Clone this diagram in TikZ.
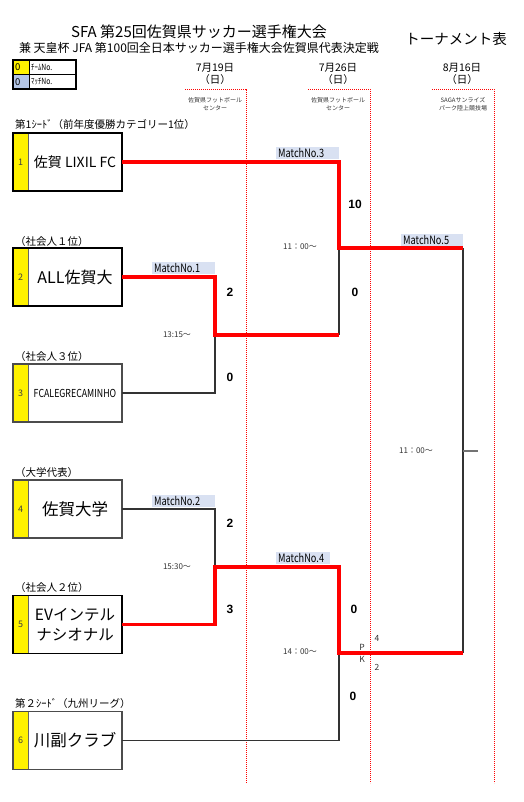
\documentclass[tikz,border=0pt]{standalone}
\usepackage{fontspec}
\setmainfont{Noto Sans CJK JP}
\newfontfamily\narrowfont[FakeStretch=0.8]{Noto Sans CJK JP}
\newfontfamily\scorefont{Liberation Sans}
\usetikzlibrary{positioning}

\definecolor{tagblue}{HTML}{D9E1F2}
\definecolor{keyblue}{HTML}{B4C6E7}

\begin{document}
\begin{tikzpicture}[x=1pt, y=-1pt, line join=miter,
		numcell/.style={fill=yellow, draw=black!60, line width=0.6pt, minimum width=15pt, minimum height=58pt, inner sep=0pt, outer sep=0pt, text=black!75, font=\fontsize{9}{9}\selectfont},
		namebox/.style={draw=black!60, line width=0.6pt, minimum width=94pt, minimum height=58pt, inner sep=0pt, outer sep=0pt, align=center},
		seedlabel/.style={anchor=west, inner sep=0pt, font=\fontsize{10.5}{11}\selectfont},
		matchtag/.style={fill=tagblue, anchor=south west, minimum height=12pt, inner xsep=2pt, inner ysep=0pt, align=left, font=\narrowfont\fontsize{11.5}{11.5}\selectfont},
		score/.style={font=\scorefont\bfseries\fontsize{12}{12}\selectfont},
		kickoff/.style={text=black!80, font=\fontsize{8}{8}\selectfont},
		datetext/.style={font=\fontsize{10.5}{10.5}\selectfont},
		venuetext/.style={align=center, text=black!80, font=\fontsize{6}{7.5}\selectfont},
		venueline/.style={red, line width=0.8pt, dash pattern=on 1.2pt off 0.8pt},
		bracket/.style={black!80, line width=1.3pt},
		winline/.style={red, line width=3.6pt}]
	
	% Page size
	\useasboundingbox (0,0) rectangle (523,802);
	
	% Titles
	\node[font=\fontsize{15}{15}\selectfont] (title) at (199,32) {SFA 第25回佐賀県サッカー選手権大会};
	\node[font=\fontsize{12}{12}\selectfont] (subtitle) at (199,48) {兼 天皇杯 JFA 第100回全日本サッカー選手権大会佐賀県代表決定戦};
	\node[font=\fontsize{14.5}{15}\selectfont] (kind) at (456,39) {トーナメント表};
	
	% Legend
	\fill[yellow] (13,60) rectangle (29,74.5);
	\fill[keyblue] (13,74.5) rectangle (29,89);
	\draw[line width=0.5pt] (13,74.5) -- (76,74.5) (29,60) -- (29,89);
	\draw[line width=1.3pt] (13,60) rectangle (76,89);
	\node[anchor=west, inner sep=0pt, font=\fontsize{9.5}{9.5}\selectfont] (keyno) at (15,67.5) {0};
	\node[anchor=west, inner sep=0pt, font=\fontsize{9.5}{9.5}\selectfont] (keymatch) at (15,82) {0};
	\node[anchor=west, inner sep=0pt, font=\narrowfont\fontsize{8.5}{9}\selectfont] (keynotext) at (31,67.5) {ﾁｰﾑNo.};
	\node[anchor=west, inner sep=0pt, font=\narrowfont\fontsize{8.5}{9}\selectfont] (keymatchtext) at (31,82) {ﾏｯﾁNo.};
	
	% Match days and venues
	\foreach \x/\d/\i in {215/7月19日/a, 338/7月26日/b, 462/8月16日/c} {
		\node[datetext] (date\i) at (\x,68) {\d};
		\node[datetext] (day\i) at (\x,80) {（日）};
	}
	\node[venuetext] (venuea) at (215,104) {佐賀県フットボール\\センター};
	\node[venuetext] (venueb) at (338,104) {佐賀県フットボール\\センター};
	\node[venuetext] (venuec) at (463,104) {SAGAサンライズ\\パーク陸上競技場};
	\foreach \xl/\xr in {185/246, 308/370, 432/494}
		\draw[venueline] (\xl,89) -- (\xr,89) -- (\xr,783);
	
	% Teams
	\node[numcell] (n1) at (20.5,162) {1};
	\node[namebox, right=0pt of n1, font=\fontsize{14}{14}\selectfont] (t1) {佐賀 LIXIL FC};
	\node[numcell] (n2) at (20.5,277) {2};
	\node[namebox, right=0pt of n2, font=\fontsize{16}{16}\selectfont] (t2) {ALL佐賀大};
	\node[numcell] (n3) at (20.5,393) {3};
	\node[namebox, right=0pt of n3, font=\narrowfont\fontsize{11}{11}\selectfont] (t3) {FCALEGRECAMINHO};
	\node[numcell] (n4) at (20.5,509) {4};
	\node[namebox, right=0pt of n4, font=\fontsize{16.5}{16.5}\selectfont] (t4) {佐賀大学};
	\node[numcell] (n5) at (20.5,624.5) {5};
	\node[namebox, right=0pt of n5, font=\fontsize{15.5}{19.5}\selectfont] (t5) {EVインテル\\ナシオナル};
	\node[numcell] (n6) at (20.5,740.5) {6};
	\node[namebox, right=0pt of n6, font=\fontsize{16.5}{16.5}\selectfont] (t6) {川副クラブ};
	\foreach \i/\c/\w in {1/black/1.6, 2/black/1.6, 3/black!70/1.1, 4/black!70/1.1, 5/black/1.6, 6/black!70/1.1}
		\draw[\c, line width=\w pt] (n\i.north west) rectangle (t\i.south east);
	
	% Seed labels
	\node[seedlabel] (seed1) at (15,125) {第1ｼｰﾄﾞ（前年度優勝カテゴリー1位）};
	\node[seedlabel] (seed2) at (15,242) {（社会人１位）};
	\node[seedlabel] (seed3) at (15,357) {（社会人３位）};
	\node[seedlabel] (seed4) at (15,473) {（大学代表）};
	\node[seedlabel] (seed5) at (15,588) {（社会人２位）};
	\node[seedlabel] (seed6) at (15,704) {第２ｼｰﾄﾞ（九州リーグ）};
	
	% Winner points of the matches
	\coordinate (w1) at (215,335);
	\coordinate (w2) at (215,567);
	\coordinate (w3) at (339,248);
	\coordinate (w4) at (339,653);
	\coordinate (w5) at (463,451);
	
	% Bracket lines
	\draw[bracket] (t3.east) -| (w1);
	\draw[bracket] (t4.east) -| (w2);
	\draw[bracket] (w1 -| w3) -- (w3);
	\draw[bracket] (t6.east) -| (w4);
	\draw[bracket] (w3 -| w5) -- (w4 -| w5);
	\draw[black!55, line width=1.3pt] (w5) -- ++(15,0);
	
	% Winners
	\draw[winline] (t1.east) -| (w3) -- (w3 -| w5);
	\draw[winline] (t2.east) -| (w1) -- (w1 -| w3);
	\draw[winline] (t5.east) -| (w2) -- (w2 -| w4) -- (w4) -- (w4 -| w5);
	
	% Match tags
	\node[matchtag, text width=59pt] (tag1) at (152,274) {MatchNo.1};
	\node[matchtag, text width=59pt] (tag2) at (152,507) {MatchNo.2};
	\node[matchtag, text width=59pt] (tag3) at (276,159) {MatchNo.3};
	\node[matchtag, text width=50pt] (tag4) at (276,564) {MatchNo.4};
	\node[matchtag, text width=58pt] (tag5) at (401,246) {MatchNo.5};
	
	% Scores
	\node[score] (s1a) at (230,292) {2};
	\node[score] (s1b) at (230,377) {0};
	\node[score] (s2a) at (230,523) {2};
	\node[score] (s2b) at (230,609) {3};
	\node[score] (s3a) at (355,204) {10};
	\node[score] (s3b) at (355,292) {0};
	\node[score] (s4a) at (354,609) {0};
	\node[score] (s4b) at (353,696) {0};
	
	% Penalty kicks
	\node[kickoff, font=\fontsize{8.5}{8.5}\selectfont] (pkp) at (362,647) {P};
	\node[kickoff, font=\fontsize{8.5}{8.5}\selectfont] (pkk) at (362,659) {K};
	\node[kickoff, font=\fontsize{8.5}{8.5}\selectfont] (pka) at (377,638) {4};
	\node[kickoff, font=\fontsize{8.5}{8.5}\selectfont] (pkb) at (377,667) {2};
	
	% Kick-off times
	\node[kickoff] (k1) at (177,335) {13:15～};
	\node[kickoff] (k2) at (177,567) {15:30～};
	\node[kickoff] (k3) at (300,247) {11：00～};
	\node[kickoff] (k4) at (300,652) {14：00～};
	\node[kickoff] (k5) at (416,451) {11：00～};
	
\end{tikzpicture}
\end{document}
